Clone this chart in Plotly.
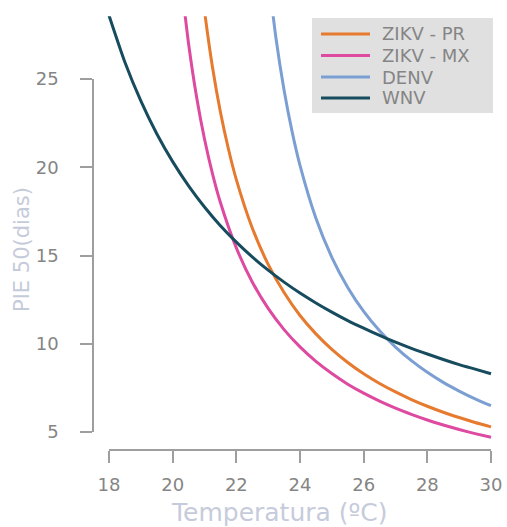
import plotly.graph_objects as go

# ---- data ----
wnv_t = [18, 18.5, 19, 19.5, 20, 20.5, 21, 21.5, 22, 22.5, 23, 23.5, 24, 24.5, 25,
         25.5, 26, 26.5, 27, 27.5, 28, 28.5, 29, 29.5, 30]
wnv_v = [28.6, 25.95, 23.76, 21.9, 20.32, 18.95, 17.75, 16.69, 15.76, 14.92, 14.17,
         13.49, 12.87, 12.31, 11.79, 11.31, 10.88, 10.47, 10.09, 9.74, 9.42, 9.11,
         8.82, 8.56, 8.3]

zmx_t = [20.3, 20.5, 20.75, 21, 21.25, 21.5, 22, 22.5, 23, 23.5, 24, 24.5, 25, 25.5,
         26, 26.5, 27, 27.5, 28, 28.5, 29, 29.5, 30]
zmx_v = [30.0, 27.0, 24.0, 21.6, 19.64, 18.0, 15.43, 13.5, 12.0, 10.8, 9.82, 9.0,
         8.31, 7.71, 7.2, 6.75, 6.35, 6.0, 5.68, 5.4, 5.14, 4.91, 4.7]

zpr_t = [20.9, 21, 21.25, 21.5, 21.75, 22, 22.5, 23, 23.5, 24, 24.5, 25, 25.5, 26,
         26.5, 27, 27.5, 28, 28.5, 29, 29.5, 30]
zpr_v = [30.36, 28.86, 25.68, 23.13, 21.05, 19.3, 16.56, 14.5, 12.9, 11.6, 10.56,
         9.68, 8.94, 8.3, 7.75, 7.27, 6.84, 6.46, 6.12, 5.82, 5.54, 5.29]

den_t = [23.0, 23.25, 23.5, 23.75, 24, 24.5, 25, 25.5, 26, 26.5, 27, 27.5, 28, 28.5,
         29, 29.5, 30]
den_v = [30.91, 27.25, 24.36, 22.03, 20.1, 17.11, 14.9, 13.19, 11.83, 10.73, 9.81,
         9.04, 8.38, 7.81, 7.32, 6.88, 6.49]

x_ticks = [18, 20, 22, 24, 26, 28, 30]
y_ticks = [5, 10, 15, 20, 25]

series_names = ["ZIKV - PR", "ZIKV - MX", "DENV", "WNV"]
series_colors = ["#e67a2e", "#dd4aa0", "#7b9fd2", "#174c5f"]
series_t = [zpr_t, zmx_t, den_t, wnv_t]
series_v = [zpr_v, zmx_v, den_v, wnv_v]

W, H = 507, 527
FONT = "DejaVu Sans"
AX = "#9e9e9e"
TXT = "#858585"
TITLE = "#c6cbdb"

fig = go.Figure()
for name, t, v, c in zip(series_names, series_t, series_v, series_colors):
    fig.add_trace(go.Scatter(x=t, y=v, mode="lines", name=name,
                             line=dict(color=c, width=3, shape="spline", smoothing=0.6),
                             xaxis="x", yaxis="y", hoverinfo="skip"))

# invisible trace carrying the detached (R-style) axes
fig.add_trace(go.Scatter(x=[x_ticks[0], x_ticks[-1]], y=[y_ticks[0], y_ticks[-1]],
                         mode="lines", line=dict(width=0), opacity=0,
                         showlegend=False, hoverinfo="skip", xaxis="x2", yaxis="y2"))

px_x18, px_x30 = 109, 491
ppx = (px_x30 - px_x18) / 12.0
py25, py5 = 79, 432
ppy = (py5 - py25) / 20.0

def xdom(v):
    return (px_x18 + (v - 18) * ppx) / W

def ydom(v):
    return 1 - (py25 + (25 - v) * ppy) / H

def px(x):
    return x / W

def py(y):
    return 1 - y / H

xr = [17.8, 30.2]
yr = [4.3, 28.55]

# legend box drawn in paper space (R-style legend)
shapes = [dict(type="rect", xref="paper", yref="paper", x0=px(312), x1=px(493),
               y0=py(113), y1=py(18), fillcolor="#e0e0e0", line=dict(width=0), layer="below")]
annotations = []
row_y = [34, 55.5, 77, 98]
for name, c, ry in zip(series_names, series_colors, row_y):
    shapes.append(dict(type="line", xref="paper", yref="paper", x0=px(321), x1=px(370),
                       y0=py(ry), y1=py(ry), line=dict(color=c, width=3)))
    annotations.append(dict(text=name, x=px(380), y=py(ry), xref="paper", yref="paper",
                            showarrow=False, xanchor="left", yanchor="middle",
                            font=dict(size=18, color=TXT, family=FONT)))

annotations += [
    dict(text="Temperatura (ºC)", x=279 / W, y=1 - 512 / H, xref="paper", yref="paper",
         showarrow=False, xanchor="center", yanchor="middle",
         font=dict(size=25, color=TITLE, family=FONT)),
    dict(text="PIE 50(dias)", x=22 / W, y=1 - 250 / H, xref="paper", yref="paper",
         showarrow=False, xanchor="center", yanchor="middle", textangle=-90,
         font=dict(size=21, color=TITLE, family=FONT)),
]

fig.update_layout(
    width=W, height=H,
    margin=dict(l=0, r=0, t=0, b=0, autoexpand=False),
    paper_bgcolor="white", plot_bgcolor="rgba(0,0,0,0)",
    font=dict(family=FONT, color=TXT),
    showlegend=False,
    xaxis=dict(domain=[xdom(xr[0]), xdom(xr[1])], range=xr, visible=False, anchor="y"),
    yaxis=dict(domain=[ydom(yr[0]), ydom(yr[1])], range=yr, visible=False, anchor="x"),
    xaxis2=dict(domain=[xdom(18), xdom(30)], range=[18, 30], anchor="free",
                position=1 - 450 / H, showline=True, linecolor=AX, linewidth=1.5,
                ticks="outside", ticklen=12, tickwidth=1.5, tickcolor=AX,
                tickvals=x_ticks, showgrid=False, zeroline=False, automargin=False,
                tickfont=dict(size=18, color=TXT, family=FONT), ticklabelstandoff=7),
    yaxis2=dict(domain=[ydom(5), ydom(25)], range=[5, 25], anchor="free",
                position=93 / W, showline=True, linecolor=AX, linewidth=1.5,
                ticks="outside", ticklen=12, tickwidth=1.5, tickcolor=AX,
                tickvals=y_ticks, showgrid=False, zeroline=False, automargin=False,
                tickfont=dict(size=18, color=TXT, family=FONT), ticklabelstandoff=18),
    shapes=shapes,
    annotations=annotations,
)

fig.write_html("out.html")
